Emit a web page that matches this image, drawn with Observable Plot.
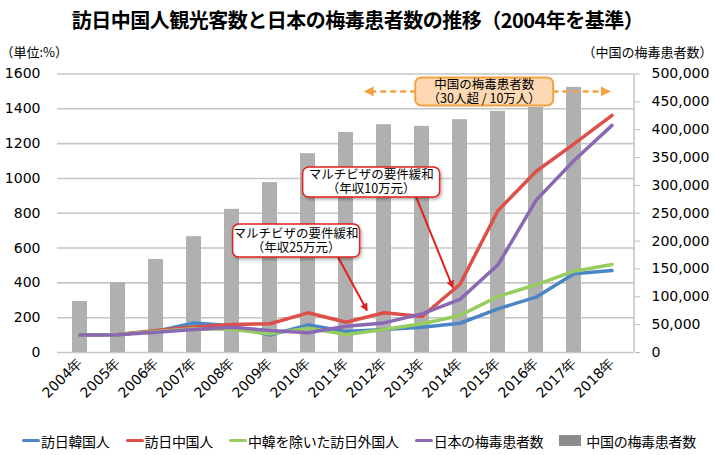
<!DOCTYPE html>
<html><head><meta charset="utf-8">
<script src="https://cdn.jsdelivr.net/npm/d3@7"></script>
<script src="https://cdn.jsdelivr.net/npm/@observablehq/plot@0.6"></script>
<style>
body{margin:0;background:#fff;width:715px;height:455px;overflow:hidden;font-family:"Noto Sans CJK JP",sans-serif;color:#000;}
#title{height:36px;line-height:40px;text-align:center;font-weight:bold;font-size:20px;letter-spacing:-0.5px;white-space:nowrap;}
#chart svg{display:block;}
#legend{position:relative;height:29px;display:flex;align-items:center;padding-left:22px;font-size:14px;letter-spacing:-0.3px;white-space:nowrap;}
.item{display:flex;align-items:center;margin-right:16px;}
.sw{width:18px;height:3.5px;border-radius:2px;margin-right:1px;}
.sq{width:22px;height:11px;margin-right:5px;}
</style></head><body>
<div id="title">訪日中国人観光客数と日本の梅毒患者数の推移（2004年を基準）</div>
<div id="chart"></div>
<div id="legend"></div>
<script>
const years = ["2004年","2005年","2006年","2007年","2008年","2009年","2010年","2011年","2012年","2013年","2014年","2015年","2016年","2017年","2018年"];
const seriesNames = ["訪日韓国人","訪日中国人","中韓を除いた訪日外国人","日本の梅毒患者数"];
const barName = "中国の梅毒患者数";
const visitorsKorea = [100,103,123,170,153,100,159,120,132,145,168,251,318,452,471];
const visitorsChina = [100,103,126,146,161,165,228,174,228,207,392,816,1040,1199,1362];
const visitorsOther = [100,103,120,136,133,107,140,103,132,165,213,322,389,467,506];
const syphilisJapan = [100,102,117,132,145,126,113,151,170,222,305,504,874,1103,1305];
const syphilisChina = [91600,125700,167000,208000,257000,305000,357000,395000,409000,406000,418000,433000,440000,476000,null];
const leftTicks = [0,200,400,600,800,1000,1200,1400,1600];
const rightTicks = [0,50000,100000,150000,200000,250000,300000,350000,400000,450000,500000];
const seriesColors = ["#4a86c6","#dd4f48","#97cc5f","#8b68b3"];
const barColor = "#b0b0b0";
const leftUnit = "（単位:%）";
const rightUnit = "（中国の梅毒患者数）";
const note1 = ["マルチビザの要件緩和","（年収10万元）"];
const note2 = ["マルチビザの要件緩和","（年収25万元）"];
const noteChina = ["中国の梅毒患者数","（30人超 / 10万人）"];

const k = 1600 / 500000;
const seriesValues = [visitorsKorea, visitorsChina, visitorsOther, syphilisJapan];
const lineRows = [];
seriesNames.forEach((name, s) => years.forEach((year, i) => lineRows.push({name, year, value: seriesValues[s][i]})));
const barRows = years.map((year, i) => ({year, cases: syphilisChina[i]})).filter(d => d.cases != null);

const plot = Plot.plot({
  width: 715, height: 390,
  marginTop: 37.5, marginBottom: 74, marginLeft: 57, marginRight: 81,
  style: {fontFamily: "DejaVu Sans", fontSize: "14px", color: "#000", background: "#fff", overflow: "visible"},
  x: {type: "band", domain: years, paddingInner: 0.6, paddingOuter: 0.3, label: null},
  y: {domain: [0, 1600], label: null},
  color: {domain: seriesNames, range: seriesColors},
  marks: [
    Plot.gridY(leftTicks, {stroke: "#c6c6c6", strokeOpacity: 1, strokeWidth: 1.6}),
    Plot.barY(barRows, {x: "year", y: d => d.cases * k, fill: barColor}),
    Plot.lineY(lineRows, {x: "year", y: "value", z: "name", stroke: "name", strokeWidth: 3.5, strokeLinejoin: "round"}),
    Plot.axisY(leftTicks, {anchor: "left", tickSize: 0, tickPadding: 17, tickFormat: d => `${d}`, label: null, fontSize: 14}),
    Plot.axisY(rightTicks.map(v => v * k), {anchor: "right", tickSize: 5, tickPadding: 12, stroke: "#bdbdbd", fill: "#000", tickFormat: d => d3.format(",")(Math.round(d / k)), label: null, fontSize: 14}),
    Plot.axisX({tickSize: 0, tickPadding: 8, tickRotate: -45, label: null, fontSize: 14}),
    Plot.text([leftUnit], {frameAnchor: "top-left", dx: -57, dy: -26.5, textAnchor: "start", fontSize: 13, fontFamily: "Noto Sans CJK JP"}),
    Plot.text([rightUnit], {frameAnchor: "top-right", dx: 78, dy: -26.5, textAnchor: "end", fontSize: 13, fontFamily: "Noto Sans CJK JP"})
  ]
});
document.getElementById("chart").appendChild(plot);

// annotations, placed in data space (fractional year index, left-axis value)
const xs = plot.scale("x"), ys = plot.scale("y");
const cx0 = xs.apply(years[0]) + xs.bandwidth / 2;
const xf = t => cx0 + t * xs.step;
const yf = v => ys.apply(v);
const svg = d3.select(plot);
const defs = svg.append("defs");
defs.append("filter").attr("id", "shadow").attr("x", "-20%").attr("y", "-20%").attr("width", "140%").attr("height", "160%")
  .append("feDropShadow").attr("dx", 1.5).attr("dy", 2).attr("stdDeviation", 1.5).attr("flood-color", "#000").attr("flood-opacity", 0.3);
const mk = (id, color) => defs.append("marker").attr("id", id).attr("viewBox", "0 0 10 10").attr("refX", 8).attr("refY", 5)
  .attr("markerWidth", 4).attr("markerHeight", 4).attr("orient", "auto-start-reverse")
  .append("path").attr("d", "M0,0L10,5L0,10z").attr("fill", color);
mk("redHead", "#e0211d");
mk("orangeHead", "#f5a245");

const g = svg.append("g");
// right axis line
g.append("line").attr("x1", xs.range[1]).attr("x2", xs.range[1]).attr("y1", yf(1600)).attr("y2", yf(0)).attr("stroke", "#c6c6c6").attr("stroke-width", 1.6);

function box(t, v, w, h, lines, fill, stroke, sw, shadow) {
  const x = xf(t), y = yf(v);
  const r = g.append("rect").attr("x", x - w / 2).attr("y", y - h / 2).attr("width", w).attr("height", h)
    .attr("rx", 6).attr("fill", fill).attr("stroke", stroke).attr("stroke-width", sw);
  if (shadow) r.attr("filter", "url(#shadow)");
  const txt = g.append("text").attr("font-family", "Noto Sans CJK JP").attr("font-size", 12.5).attr("text-anchor", "middle").attr("fill", "#000");
  lines.forEach((s, i) => txt.append("tspan").attr("x", x).attr("y", y + (i - (lines.length - 1) / 2) * 14).attr("dy", "0.35em").text(s));
}
function arrow(t1, v1, t2, v2, color, head, width, dash) {
  const l = g.append("line").attr("x1", xf(t1)).attr("y1", yf(v1)).attr("x2", xf(t2)).attr("y2", yf(v2))
    .attr("stroke", color).attr("stroke-width", width).attr("marker-end", `url(#${head})`);
  if (dash) l.attr("stroke-dasharray", dash);
}
// orange dashed range arrows + box
arrow(8.86, 1497, 7.53, 1497, "#f5a245", "orangeHead", 2.5, "6,4");
arrow(12.45, 1497, 13.93, 1497, "#f5a245", "orangeHead", 2.5, "6,4");
box(10.65, 1497, 138, 28, noteChina, "#fcd9b2", "#f5a245", 2, false);
// red notes
arrow(8.86, 890, 9.82, 373, "#e0211d", "redHead", 2);
arrow(6.80, 546, 7.56, 241, "#e0211d", "redHead", 2);
box(7.675, 977, 137, 30, note1, "#fff", "#e0211d", 1.5, true);
box(5.70, 640, 127, 33, note2, "#fff", "#e0211d", 1.5, true);

// legend
const legend = d3.select("#legend");
seriesNames.forEach((name, i) => {
  const it = legend.append("div").attr("class", "item");
  it.append("div").attr("class", "sw").style("background", seriesColors[i]);
  it.append("span").text(name);
});
const it = legend.append("div").attr("class", "item");
it.append("div").attr("class", "sq").style("background", "#8c8c8c");
it.append("span").text(barName);
</script>
</body></html>
